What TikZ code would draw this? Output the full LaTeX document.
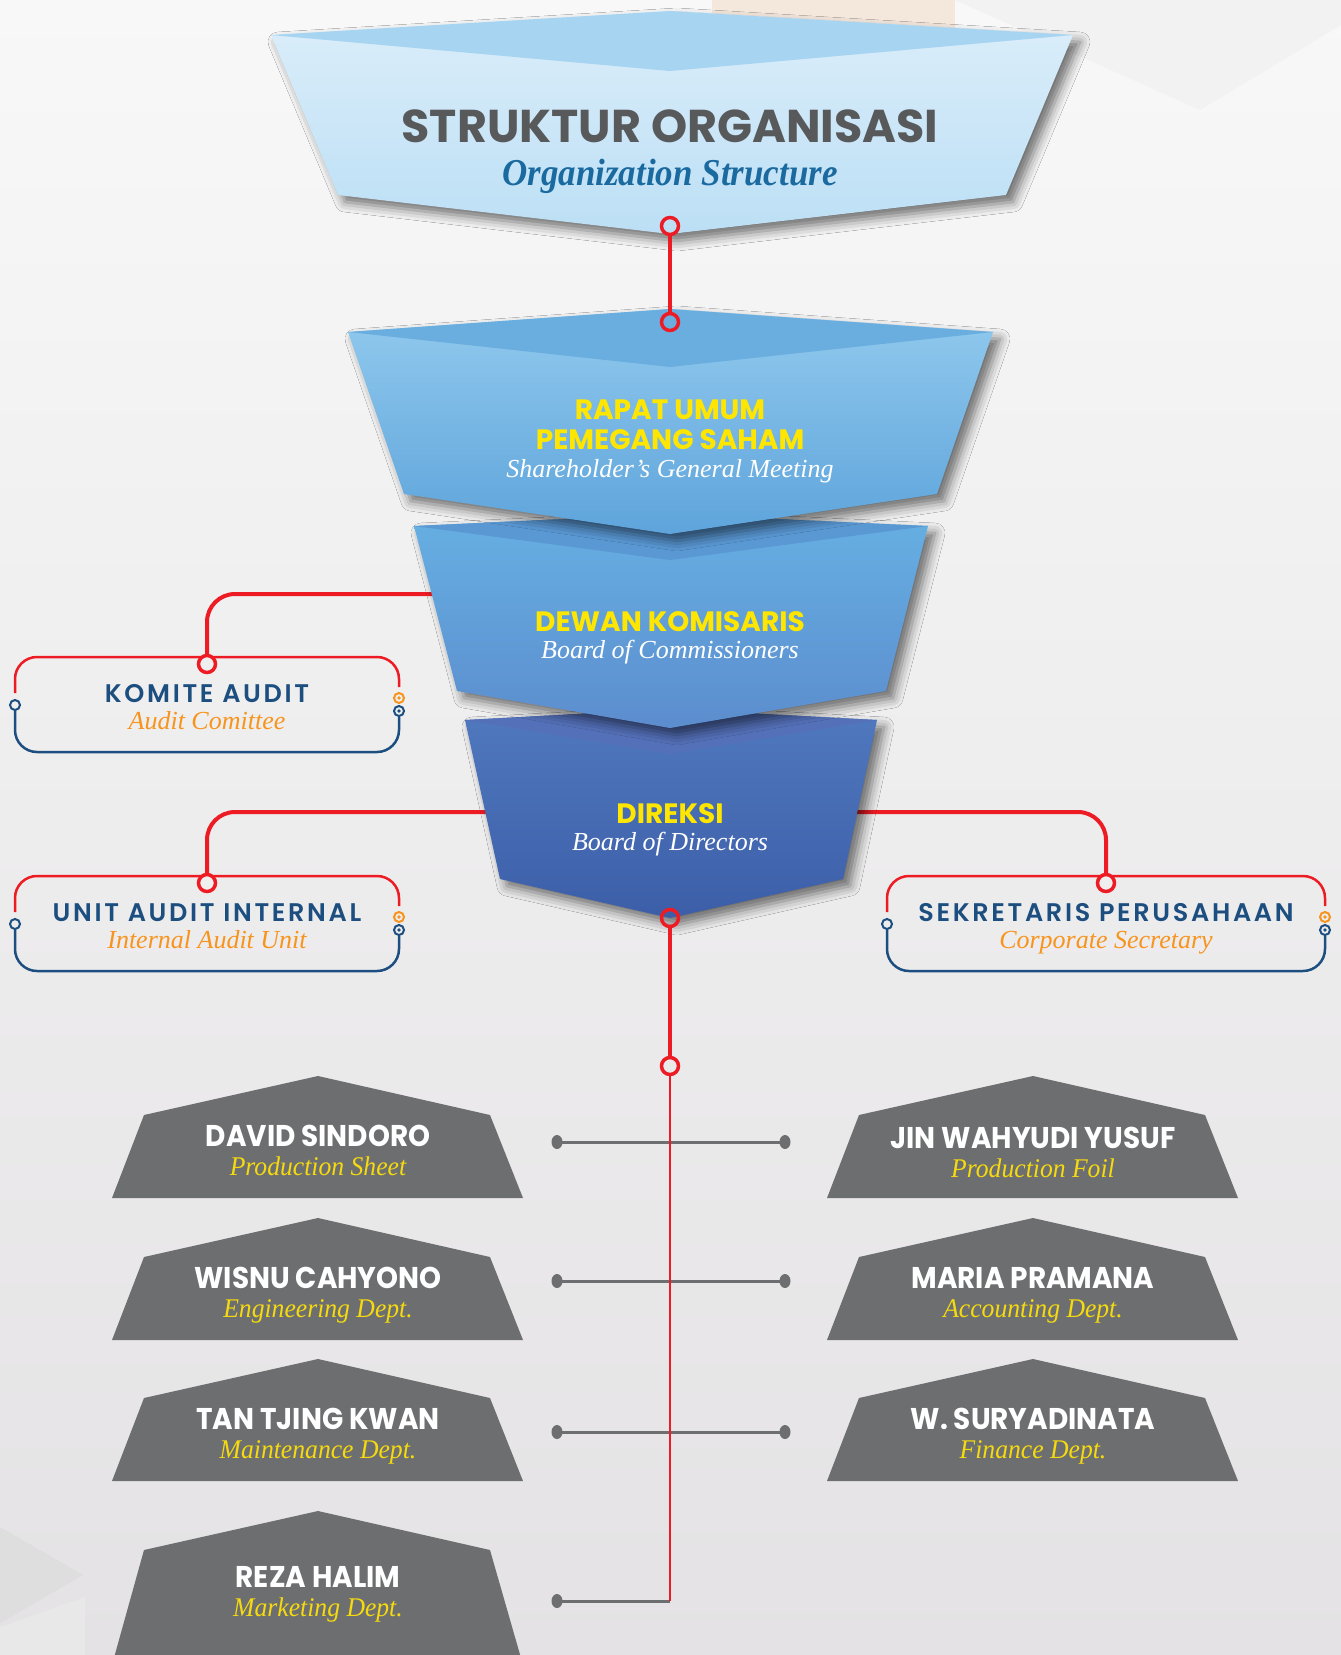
\documentclass[tikz,border=0pt]{standalone}
\usepackage{fontspec}
\usetikzlibrary{shadows.blur}
\newfontfamily\headfont{Poppins}
\newfontfamily\boxfont{Poppins}[UprightFont=* SemiBold, LetterSpace=10.5]
\newfontfamily\namefont{Poppins}[FakeStretch=0.93]
\newfontfamily\serifit{Liberation Serif}
\newfontfamily\titleit{Liberation Serif}[FakeStretch=0.92]
\newfontfamily\deptfont{Liberation Serif}[FakeStretch=0.95]

\definecolor{orgred}{HTML}{ED1C24}
\definecolor{orgblue}{HTML}{1C4E80}
\definecolor{orgorange}{HTML}{F7941D}
\definecolor{orggray}{HTML}{6D6E70}
\definecolor{orgyellow}{HTML}{FFE600}
\definecolor{deptyellow}{HTML}{F5DA0F}
\definecolor{titlegray}{HTML}{58595B}
\definecolor{titleblue}{HTML}{1A6AA0}
\definecolor{bgcol}{HTML}{F0EFF0}
\definecolor{bgtop}{HTML}{F8F8F8}
\definecolor{bgbottom}{HTML}{E4E2E4}
\definecolor{titleback}{HTML}{A6D4F1}
\definecolor{titletop}{HTML}{DCEEFA}
\definecolor{titlebot}{HTML}{BCDFF5}
\definecolor{rupsback}{HTML}{6AAEE0}
\definecolor{rupstop}{HTML}{92CAEE}
\definecolor{rupsbot}{HTML}{5EA4DB}
\definecolor{dewanback}{HTML}{5A98D4}
\definecolor{dewantop}{HTML}{66B0E3}
\definecolor{dewanbot}{HTML}{5C8DCE}
\definecolor{dirback}{HTML}{5470B8}
\definecolor{dirtop}{HTML}{5079BF}
\definecolor{dirbot}{HTML}{3C5EA8}

\newcommand{\orgbox}[6]{%
  \draw[redbox] (#2,#4+36) |- ({(#2+#3)/2},#4) -| (#3,#4+30);
  \draw[bluebox] (#2,#4+53) |- (#3,#4+95) -- (#3,#4+60);
  \draw[orgblue, line width=2] (#2,#4+48) circle (5);
  \draw[orgorange, line width=2] (#3,#4+41) circle (5);
  \fill[orgorange] (#3,#4+41) circle (1.8);
  \draw[orgblue, line width=2] (#3,#4+54) circle (5);
  \fill[orgblue] (#3,#4+54) circle (1.8);
  \node[junction, fill=bgcol] (#1-jn) at ({(#2+#3)/2},#4+7) {};
  \node[boxtitle] (#1) at ({(#2+#3)/2},#4+36) {#5};
  \node[boxsub] (#1-en) at ({(#2+#3)/2},#4+66) {#6};
}
\newcommand{\person}[7][0]{%
  \fill[orggray] (#3,#4) -- (#3+172,#4+39) -- (#3+205,#5) -- (#3-206,#5) -- (#3-174,#4+39) -- cycle;
  \node[namelbl] (#2) at (#3,#4+60+#1) {#6};
  \node[deptlbl] (#2-dept) at (#3,#4+93+#1) {#7};
}

\begin{document}
\begin{tikzpicture}[x=1pt, y=-1pt,
  redline/.style={draw=orgred, line width=4},
  redthin/.style={draw=orgred, line width=2.5},
  redbox/.style={draw=orgred, line width=2.5, rounded corners=22},
  bluebox/.style={draw=orgblue, line width=2.5, rounded corners=22},
  junction/.style={circle, draw=orgred, line width=3.5, minimum size=17, inner sep=0},
  grayline/.style={draw=orggray, line width=3},
  lbl/.style={inner sep=0},
  boxtitle/.style={lbl, text=orgblue, font=\boxfont\fontsize{25.5}{27}\selectfont, text height=18pt, text depth=0pt},
  boxsub/.style={lbl, text=orgorange, font=\serifit\itshape\fontsize{26}{28}\selectfont, text height=17pt, text depth=5pt},
  yellowlbl/.style={lbl, text=orgyellow, font=\headfont\bfseries\fontsize{28}{30}\selectfont, text height=20pt, text depth=0pt},
  whitelbl/.style={lbl, text=white, font=\serifit\itshape\fontsize{26}{28}\selectfont, text height=17pt, text depth=5pt},
  namelbl/.style={lbl, text=white, font=\namefont\bfseries\fontsize{30}{32}\selectfont, text height=21pt, text depth=0pt},
  deptlbl/.style={lbl, text=deptyellow, font=\deptfont\itshape\fontsize{27}{29}\selectfont, text height=18pt, text depth=6pt},
  funnelshadow/.style={blur shadow={shadow xshift=7pt, shadow yshift=-7pt, shadow blur radius=10pt, shadow opacity=55}}
]
\useasboundingbox (0,0) rectangle (1341,1655);
\shade[top color=bgtop, bottom color=bgbottom] (0,0) rectangle (1341,1655);
\fill[color=brown!18!white] (712,0) rectangle (955,55);
\fill[black!5] (955,0) -- (1341,0) -- (1341,25) -- (1200,110) -- cycle;
\fill[black!13] (0,1527) -- (83,1575) -- (0,1623) -- cycle;
\fill[black!9] (0,1627) -- (85,1597) -- (85,1655) -- (0,1655) -- cycle;

\orgbox{komite}{15}{399}{657}{KOMITE AUDIT}{Audit Comittee}
\orgbox{spi}{15}{399}{876}{UNIT AUDIT INTERNAL}{Internal Audit Unit}
\orgbox{sekper}{887}{1325}{876}{SEKRETARIS PERUSAHAAN}{Corporate Secretary}

\coordinate (dewan-w) at (440,594);
\coordinate (direksi-w) at (490,812);
\coordinate (direksi-e) at (850,812);
\draw[redline, rounded corners=28] (dewan-w) -| (komite-jn);
\draw[redline, rounded corners=28] (direksi-w) -| (spi-jn);
\draw[redline, rounded corners=28] (direksi-e) -| (sekper-jn);

\path[funnelshadow, top color=dirtop, bottom color=dirbot] (465,720) -- (670,709) -- (877,720) -- (843,879) -- (670,918) -- (500,879) -- cycle;
\fill[dirback] (465,720) -- (670,709) -- (877,720) -- (670,754) -- cycle;
\node[yellowlbl] (direksi) at (670,813) {DIREKSI};
\node[whitelbl] (direksi-en) at (670,844) {Board of Directors};

\path[funnelshadow, top color=dewantop, bottom color=dewanbot] (414,526) -- (670,514) -- (928,526) -- (886,691) -- (670,728) -- (457,691) -- cycle;
\fill[dewanback] (414,526) -- (670,514) -- (928,526) -- (670,560) -- cycle;
\node[yellowlbl] (dewan) at (670,621) {DEWAN KOMISARIS};
\node[whitelbl] (dewan-en) at (670,652) {Board of Commissioners};

\path[funnelshadow, top color=rupstop, bottom color=rupsbot] (348,332) -- (670,309) -- (993,332) -- (937,494) -- (670,534) -- (404,494) -- cycle;
\fill[rupsback] (348,332) -- (670,309) -- (993,332) -- (670,367) -- cycle;
\node[yellowlbl] (rups) at (670,409) {RAPAT UMUM};
\node[yellowlbl] (rups2) at (670,439) {PEMEGANG SAHAM};
\node[whitelbl] (rups-en) at (670,471) {Shareholder’s General Meeting};

\path[funnelshadow, top color=titletop, bottom color=titlebot] (271,35) -- (670,11) -- (1073,35) -- (1006,195) -- (670,234) -- (338,195) -- cycle;
\fill[titleback] (271,35) -- (670,11) -- (1073,35) -- (670,71) -- cycle;
\node[lbl, text=titlegray, font=\headfont\bfseries\fontsize{46}{48}\selectfont, text height=32pt, text depth=0pt] (title) at (670,126) {STRUKTUR ORGANISASI};
\node[lbl, text=titleblue, font=\titleit\bfseries\itshape\fontsize{38}{40}\selectfont, text height=25pt, text depth=8pt] (title-en) at (670,177) {Organization Structure};

\node[junction] (title-jn) at (670,226) {};
\node[junction] (rups-jn) at (670,322) {};
\draw[redline] (title-jn) -- (rups-jn);

\node[junction] (direksi-jn) at (670,918) {};
\node[junction] (trunk-jn) at (670,1066) {};
\draw[redline] (direksi-jn) -- (trunk-jn);

\person{sindoro}{318}{1076}{1198}{DAVID SINDORO}{Production Sheet}
\person[2]{yusuf}{1033}{1076}{1198}{JIN WAHYUDI YUSUF}{Production Foil}
\person{cahyono}{318}{1218}{1340}{WISNU CAHYONO}{Engineering Dept.}
\person{pramana}{1033}{1218}{1340}{MARIA PRAMANA}{Accounting Dept.}
\person{kwan}{318}{1359}{1481}{TAN TJING KWAN}{Maintenance Dept.}
\person{suryadinata}{1033}{1359}{1481}{W. SURYADINATA}{Finance Dept.}
\person[6]{halim}{318}{1511}{1665}{REZA HALIM}{Marketing Dept.}

\foreach \i/\y in {1/1142,2/1281,3/1432}{
  \coordinate (gl\i) at (557,\y);
  \coordinate (gr\i) at (785,\y);
  \draw[grayline] (gl\i) -- (gr\i);
  \fill[orggray] (gl\i) ellipse (5.5 and 7) (gr\i) ellipse (5.5 and 7);
}
\coordinate (gl4) at (557,1601);
\coordinate (trunk-end) at (670,1601);
\draw[grayline] (gl4) -- (trunk-end);
\fill[orggray] (gl4) ellipse (5.5 and 7);
\draw[redthin] (trunk-jn) -- (trunk-end);
\end{tikzpicture}
\end{document}
